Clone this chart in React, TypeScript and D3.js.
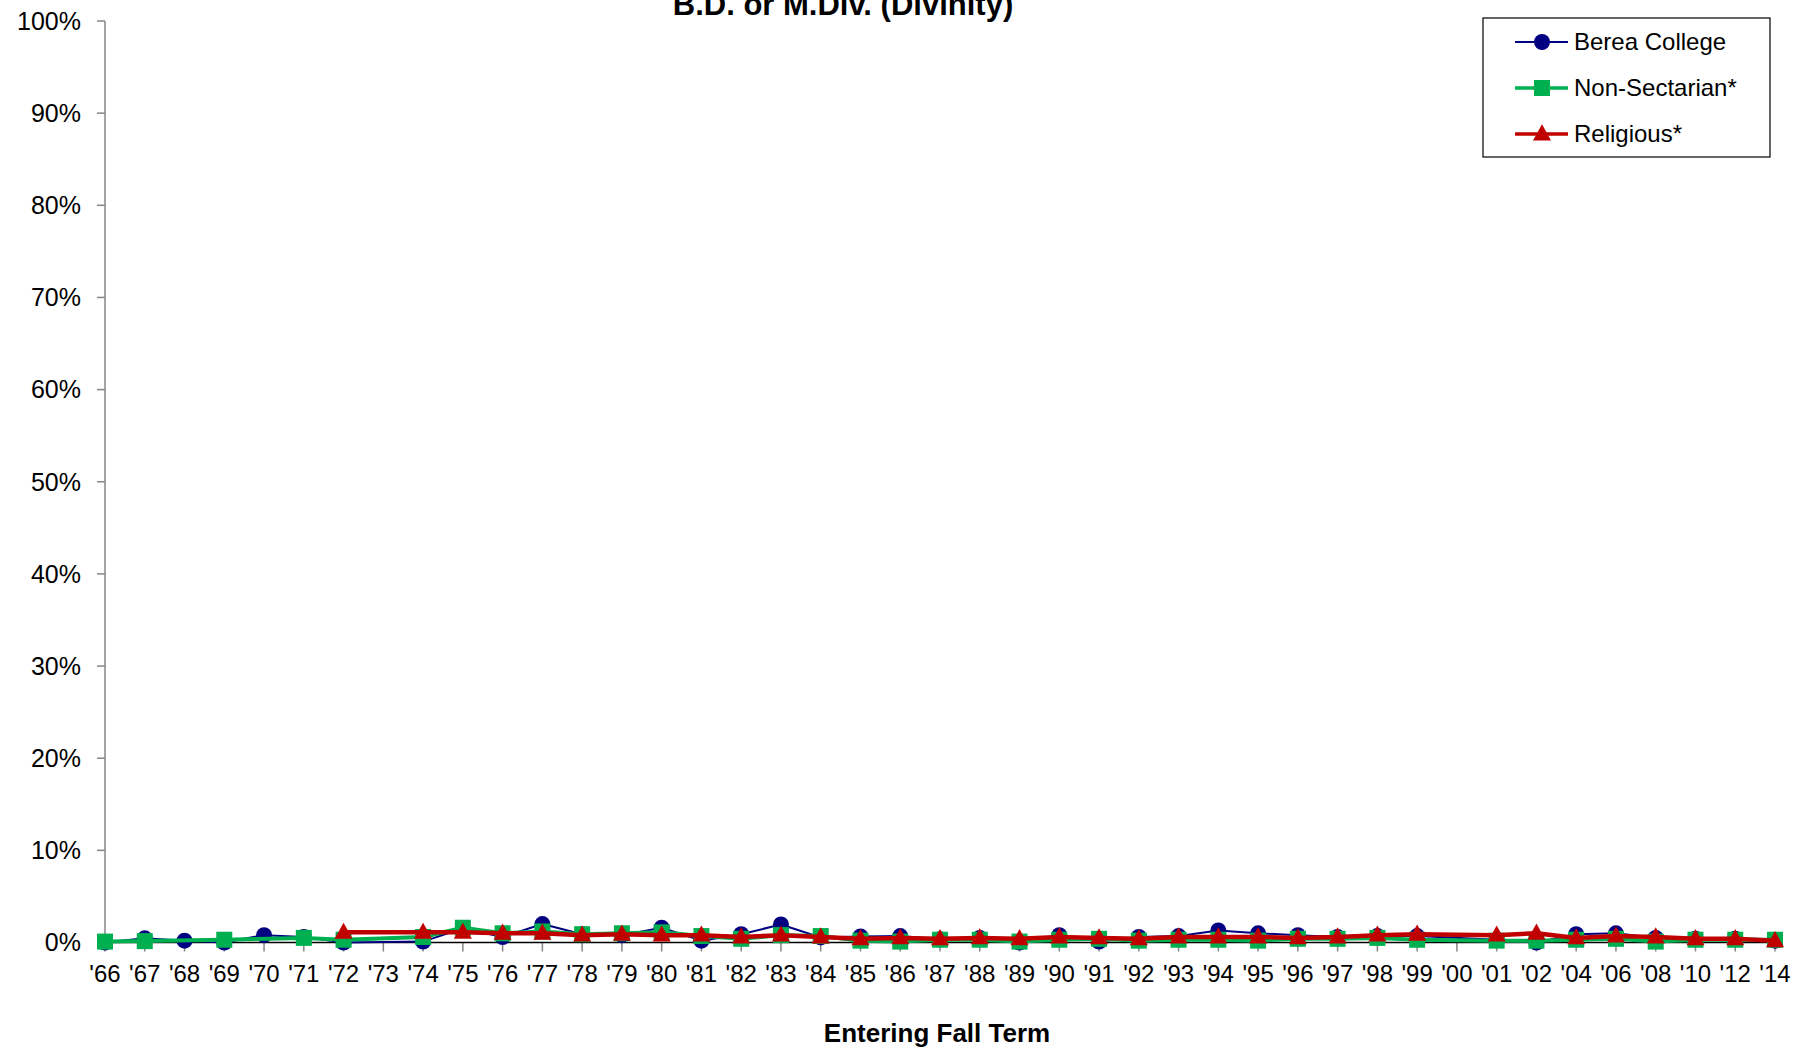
import React from "react";
import * as d3 from "d3";

const categories = ["'66","'67","'68","'69","'70","'71","'72","'73","'74","'75","'76","'77","'78","'79","'80","'81","'82","'83","'84","'85","'86","'87","'88","'89","'90","'91","'92","'93","'94","'95","'96","'97","'98","'99","'00","'01","'02","'04","'06","'08","'10","'12","'14"];

const bereaValues = [0.0,0.45,0.2,0.0,0.8,0.6,0.0,null,0.1,1.55,0.6,2.0,0.9,0.8,1.6,0.2,0.9,1.95,0.55,0.65,0.7,0.35,0.5,0.0,0.8,0.1,0.6,0.7,1.3,1.0,0.8,0.6,0.7,0.7,null,0.3,0.0,0.9,1.0,0.5,0.4,0.4,0.2];
const nonSectarianValues = [0.1,0.15,null,0.3,null,0.5,0.3,null,0.6,1.6,1.0,1.2,0.9,1.0,1.1,0.7,0.4,0.8,0.7,0.2,0.1,0.3,0.3,0.1,0.3,0.4,0.2,0.3,0.3,0.2,0.4,0.4,0.5,0.3,null,0.2,0.2,0.3,0.4,0.1,0.3,0.3,0.3];
const religiousValues = [null,null,null,null,null,null,1.1,null,1.1,1.1,1.0,1.0,0.8,0.9,0.8,0.8,0.6,0.8,0.6,0.4,0.5,0.4,0.5,0.4,0.6,0.5,0.4,0.6,0.6,0.6,0.5,0.6,0.8,0.9,null,0.8,1.0,0.5,0.7,0.6,0.4,0.4,0.2];

const yTicks = [0,10,20,30,40,50,60,70,80,90,100];
const seriesNames = ["Berea College","Non-Sectarian*","Religious*"];

const FONT = "'Liberation Sans', Arial, Helvetica, sans-serif";

const series = [
  { name: seriesNames[0], values: bereaValues, color: "#000080", width: 2, marker: "circle" },
  { name: seriesNames[1], values: nonSectarianValues, color: "#00B050", width: 4, marker: "square" },
  { name: seriesNames[2], values: religiousValues, color: "#C00000", width: 4.5, marker: "triangle" },
];

function Marker({ type, x, y, color }: { type: string; x: number; y: number; color: string }) {
  if (type === "circle") return <circle cx={x} cy={y} r={8} fill={color} />;
  if (type === "square") return <rect x={x - 8} y={y - 8} width={16} height={16} fill={color} />;
  const s = 18;
  const h = s * 0.9;
  return (
    <path
      d={`M${x},${y - h * 0.6} L${x + s / 2},${y + h * 0.4} L${x - s / 2},${y + h * 0.4} Z`}
      fill={color}
    />
  );
}

export default function App() {
  const W = 1798, H = 1049;
  const x = d3.scalePoint<string>().domain(categories).range([105, 1775]);
  const y = d3.scaleLinear().domain([0, 100]).range([942.5, 21]);

  const line = d3
    .line<{ c: string; v: number }>()
    .x((d) => x(d.c) as number)
    .y((d) => y(d.v));

  return (
    <svg width={W} height={H} style={{ position: "absolute", left: 0, top: 0, background: "#fff" }} fontFamily={FONT}>
      <rect width={W} height={H} fill="#fff" />
      {/* title */}
      <text x={843} y={15} textAnchor="middle" fontSize={31} fontWeight="bold" fill="#000">
        B.D. or M.Div. (Divinity)
      </text>
      {/* y axis */}
      <line x1={105} x2={105} y1={y(100)} y2={y(0)} stroke="#868686" strokeWidth={1.5} />
      {yTicks.map((t) => (
        <g key={t}>
          <line x1={97} x2={105} y1={y(t)} y2={y(t)} stroke="#868686" strokeWidth={1.5} />
          <text x={81} y={y(t)} dy="0.35em" textAnchor="end" fontSize={25} fill="#000">
            {t}%
          </text>
        </g>
      ))}
      {/* x axis */}
      {categories.map((c) => (
        <g key={c}>
          <line x1={x(c)} x2={x(c)} y1={y(0)} y2={y(0) + 9} stroke="#868686" strokeWidth={1.5} />
          <text x={x(c)} y={982} textAnchor="middle" fontSize={24} fill="#000">
            {c}
          </text>
        </g>
      ))}
      <line x1={105} x2={1775} y1={y(0)} y2={y(0)} stroke="#000" strokeWidth={1.5} />
      <text x={937} y={1042} textAnchor="middle" fontSize={26} fontWeight="bold" fill="#000">
        Entering Fall Term
      </text>
      {/* series */}
      {series.map((s) => {
        const pts = categories
          .map((c, i) => ({ c, v: s.values[i] as number | null }))
          .filter((d) => d.v !== null) as { c: string; v: number }[];
        return (
          <g key={s.name}>
            <path d={line(pts) || ""} fill="none" stroke={s.color} strokeWidth={s.width} strokeLinejoin="round" />
            {pts.map((d) => (
              <Marker key={d.c} type={s.marker} x={x(d.c) as number} y={y(d.v)} color={s.color} />
            ))}
          </g>
        );
      })}
      {/* legend */}
      <rect x={1483} y={18} width={287} height={139} fill="#fff" stroke="#000" strokeWidth={1.2} />
      {series.map((s, i) => {
        const ly = 42 + i * 46;
        return (
          <g key={s.name}>
            <line x1={1515} x2={1568} y1={ly} y2={ly} stroke={s.color} strokeWidth={s.width === 2 ? 2 : 3.5} />
            <Marker type={s.marker} x={1542} y={ly} color={s.color} />
            <text x={1574} y={ly} dy="0.35em" fontSize={24} fill="#000">
              {s.name}
            </text>
          </g>
        );
      })}
    </svg>
  );
}
